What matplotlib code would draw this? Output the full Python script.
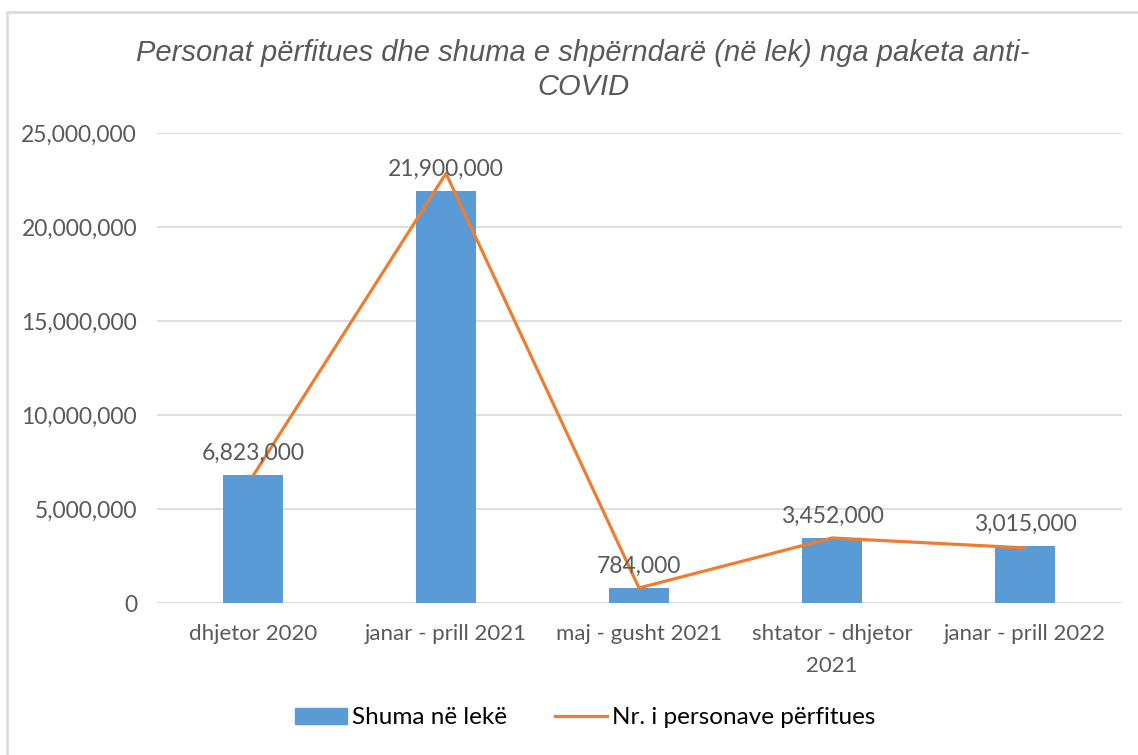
import matplotlib
matplotlib.use("Agg")
import matplotlib.pyplot as plt
from matplotlib.ticker import FuncFormatter
from matplotlib.patches import Rectangle
from matplotlib.lines import Line2D

categories = ["dhjetor 2020", "janar - prill 2021", "maj - gusht 2021",
              "shtator - dhjetor\n2021", "janar - prill 2022"]
shuma = [6823000, 21900000, 784000, 3452000, 3015000]
# line series drawn on the same scale
personat = [6760000, 22850000, 800000, 3460000, 2930000]
yticks = [0, 5000000, 10000000, 15000000, 20000000, 25000000]

title = "Personat përfitues dhe shuma e shpërndarë (në lek) nga paketa anti-\nCOVID"
bar_label = "Shuma në lekë"
line_label = "Nr. i personave përfitues"

BAR = "#5B9BD5"
LINE = "#ED7D31"
TXT = "#595959"
GRID = "#D9D9D9"
FONT = "Lato"

fig = plt.figure(figsize=(11.38, 7.55), dpi=100)
fig.patch.set_facecolor("white")
# chart border
fig.add_artist(Rectangle((7 / 1138, -0.01), 1.05, (755 - 12) / 755 + 0.01,
                         transform=fig.transFigure, fill=False,
                         edgecolor=GRID, linewidth=1.8))

ax = fig.add_axes([156.5 / 1138, 1 - 603 / 755, 965 / 1138, 470 / 755])
x = list(range(len(categories)))
ax.bar(x, shuma, width=0.31, color=BAR, zorder=2, label=bar_label)
ax.plot(x, personat, color=LINE, linewidth=2.3, zorder=3, label=line_label,
        solid_capstyle="butt")

for xi, v in zip(x, shuma):
    ax.annotate(f"{v:,}", (xi, v), xytext=(0, 8), textcoords="offset points",
                ha="center", va="bottom", fontsize=16.5, color=TXT, family=FONT,
                zorder=4)

ax.set_xlim(-0.5, len(categories) - 0.5)
ax.set_ylim(0, 25000000)
ax.set_yticks(yticks)
ax.yaxis.set_major_formatter(FuncFormatter(lambda v, p: f"{int(v):,}"))
ax.set_xticks(x)
ax.set_xticklabels(categories, fontsize=16, color=TXT, family=FONT,
                   linespacing=1.75)
for lab in ax.get_yticklabels():
    lab.set_fontsize(16.5)
    lab.set_color(TXT)
    lab.set_family(FONT)
ax.tick_params(axis="both", length=0)
ax.tick_params(axis="x", pad=15)
ax.tick_params(axis="y", pad=14)
ax.grid(axis="y", color=GRID, linewidth=1.2, zorder=0)
ax.set_axisbelow(True)
for s in ax.spines.values():
    s.set_visible(False)

fig.text(583 / 1138, 1 - 70 / 755, title, ha="center", va="center",
         fontsize=21, style="italic", color=TXT, family="Liberation Sans",
         linespacing=1.3)

handles = [Rectangle((0, 0), 1, 1, color=BAR),
           Line2D([0], [0], color=LINE, linewidth=2.3)]
leg = fig.legend(handles, [bar_label, line_label], loc="center",
                 bbox_to_anchor=(585 / 1138, 1 - 718 / 755), ncol=2,
                 frameon=False, prop={"family": FONT, "size": 17.5},
                 handlelength=2.14, handleheight=0.62, columnspacing=2.0,
                 handletextpad=0.2)
for t in leg.get_texts():
    t.set_color("#000000")

fig.savefig("out.png", dpi=100, facecolor="white")
